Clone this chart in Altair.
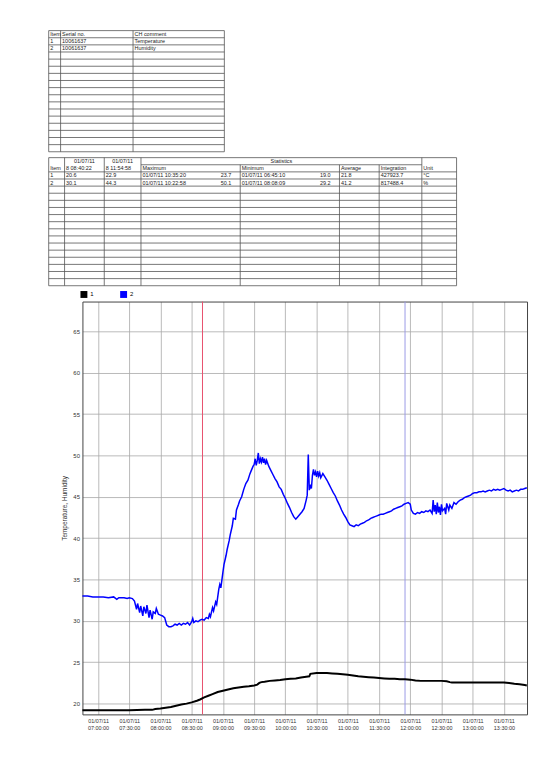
import altair as alt
import pandas as pd

FONT = "Liberation Sans"
LINE = "#555555"
TXT = "#222222"
TABLE_SHIFT = 34  # tables start this far left of the plot's left edge

# ---------------- table 1 ----------------
t1_header = ["Item", "Serial no.", "CH comment"]
t1_rows = [["1", "10061637", "Temperature"],
           ["2", "10061637", "Humidity"]]
t1_edges = [0, 12, 85, 177]
t1_nrows = 17
t1_rowh = 7.18

# ---------------- table 2 ----------------
t2_top = ["01/07/11", "01/07/11", "Statistics"]
t2_header = ["Item", "8 08:40:22", "8 11:54:58", "Maximum", "Minimum",
             "Average", "Integration", "Unit"]
t2_rows = [
    ["1", "20.6", "22.9", "01/07/11 10:35:20", "23.7", "01/07/11 06:45:10", "19.0",
     "21.8", "427923.7", "°C"],
    ["2", "30.1", "44.3", "01/07/11 10:22:58", "50.1", "01/07/11 08:08:09", "29.2",
     "41.2", "817488.4", "%"],
]
t2_edges = [0, 16, 56, 93, 193, 293, 333, 376, 411]
t2_nrows = 18
t2_rowh = 7.17

# ---------------- logged data (minutes after 07:00) ----------------
hum_min = [-15, -10, -5, 0, 5, 10, 15, 18, 20, 25, 28, 30, 33, 35, 37, 38, 40, 41, 43, 44,
           46, 47, 49, 50, 52, 53, 55, 56, 58, 60, 62, 64, 66, 68, 70, 72, 74, 76, 78, 80,
           82, 84, 86, 88, 90, 91, 92, 94, 96, 98, 100, 102, 104, 106, 107, 108, 110, 111, 113, 114,
           116, 117, 118, 120, 121, 123, 124, 126, 127, 129, 130, 132, 133, 135, 136, 138, 140, 142, 144, 146,
           147, 149, 150, 151, 152, 153, 154, 155, 156, 157, 158, 159, 160, 161, 162, 164, 166, 168, 170, 172,
           174, 176, 178, 180, 182, 184, 186, 188, 190, 192, 194, 196, 198, 200, 201, 202, 203, 204, 205, 206,
           207, 208, 209, 210, 211, 212, 213, 214, 216, 218, 220, 222, 224, 226, 228, 230, 232, 234, 236, 238,
           240, 242, 244, 246, 248, 250, 252, 254, 256, 258, 260, 262, 264, 266, 268, 270, 272, 274, 276, 278,
           280, 282, 284, 286, 288, 290, 292, 294, 296, 298, 300, 301, 303, 305, 307, 309, 311, 313, 315, 317,
           319, 321, 322, 323, 324, 325, 326, 327, 328, 329, 330, 331, 333, 334, 335, 337, 338, 340, 342, 344,
           346, 348, 350, 352, 354, 356, 358, 360, 362, 364, 366, 368, 370, 372, 374, 376, 378, 380, 382, 384,
           386, 388, 390, 392, 394, 396, 398, 400, 402, 404, 406, 408, 410, 412]
hum_val = [33.0, 33.0, 32.9, 32.9, 32.9, 32.8, 32.9, 32.6, 32.8, 32.8, 32.7, 32.8, 32.7, 32.4, 31.4, 32.1, 31.0, 31.8, 30.6, 31.7,
           30.9, 31.9, 30.4, 31.3, 30.2, 31.1, 30.9, 31.5, 30.8, 30.7, 30.6, 30.4, 29.5, 29.3, 29.3, 29.4, 29.6, 29.5, 29.7, 29.5,
           29.7, 29.6, 29.8, 29.5, 29.9, 30.3, 29.8, 30.0, 29.9, 30.1, 30.2, 30.1, 30.4, 30.3, 30.8, 30.5, 31.6, 31.2, 32.3, 32.0,
           33.8, 34.4, 34.0, 35.9, 36.8, 37.9, 38.6, 39.7, 40.4, 41.5, 42.4, 42.3, 43.4, 44.1, 44.5, 45.0, 45.9, 46.6, 47.0, 47.8,
           48.1, 48.7, 48.9, 49.6, 48.8, 49.4, 50.3, 49.0, 49.6, 49.2, 49.8, 49.1, 49.6, 48.9, 49.4, 48.7, 48.2, 47.7, 47.2, 46.8,
           46.2, 45.9, 45.3, 44.8, 44.2, 43.7, 43.1, 42.6, 42.3, 42.6, 42.9, 43.2, 43.6, 44.6, 45.2, 50.1, 45.8, 46.3, 46.0, 47.6,
           48.3, 47.6, 48.0, 47.4, 48.1, 47.5, 47.9, 47.3, 47.8, 47.4, 47.0, 46.5, 46.0, 45.5, 45.1, 44.5, 44.0, 43.4, 42.9, 42.5,
           42.0, 41.6, 41.5, 41.4, 41.6, 41.5, 41.7, 41.8, 41.9, 42.1, 42.2, 42.4, 42.5, 42.6, 42.7, 42.8, 42.9, 42.9, 43.0, 43.1,
           43.2, 43.3, 43.5, 43.6, 43.7, 43.8, 43.9, 44.1, 44.2, 44.3, 44.1, 43.4, 43.0, 42.9, 43.1, 43.0, 43.2, 43.1, 43.3, 43.2,
           43.4, 43.0, 44.6, 43.2, 44.0, 42.9, 44.3, 43.1, 43.8, 42.8, 44.1, 43.3, 43.6, 42.9, 44.2, 43.4, 44.0, 43.6, 44.3, 44.1,
           44.4, 44.6, 44.7, 44.9, 45.0, 45.1, 45.2, 45.4, 45.5, 45.5, 45.6, 45.6, 45.7, 45.6, 45.7, 45.8, 45.7, 45.9, 45.8, 45.9,
           45.8, 45.9, 46.0, 45.8, 45.7, 45.8, 45.6, 45.7, 45.8, 45.7, 45.9, 45.9, 46.0, 46.1]

tmp_min = [-15, 0, 15, 30, 45, 52, 55, 60, 65, 70, 75, 80, 85, 90, 95, 98, 102, 106, 110, 115,
           120, 125, 130, 135, 140, 145, 150, 153, 155, 157, 160, 165, 170, 175, 180, 185, 190, 195, 200, 203,
           204, 210, 215, 220, 225, 230, 235, 240, 245, 250, 255, 260, 265, 270, 275, 280, 285, 290, 295, 300,
           305, 310, 315, 320, 325, 330, 335, 338, 340, 350, 360, 370, 380, 390, 395, 400, 405, 410, 412]
tmp_val = [19.2, 19.2, 19.2, 19.2, 19.25, 19.25, 19.35, 19.4, 19.5, 19.6, 19.75, 19.9, 20.0, 20.15, 20.35, 20.5, 20.75, 20.95, 21.15, 21.4,
           21.55, 21.7, 21.85, 21.95, 22.05, 22.1, 22.2, 22.3, 22.5, 22.6, 22.65, 22.75, 22.8, 22.85, 22.95, 23.0, 23.05, 23.15, 23.25, 23.3,
           23.6, 23.7, 23.7, 23.7, 23.65, 23.6, 23.55, 23.5, 23.4, 23.3, 23.25, 23.2, 23.15, 23.1, 23.05, 23.0, 23.0, 22.95, 22.95, 22.9,
           22.8, 22.75, 22.75, 22.75, 22.75, 22.75, 22.7, 22.6, 22.55, 22.55, 22.55, 22.55, 22.55, 22.55, 22.5, 22.4, 22.35, 22.25, 22.2]

channels = ["1", "2"]
channel_colors = ["#000000", "#0000ff"]

cursor_times = ["08:40:22", "11:54:58"]
cursor_colors = ["#e8506e", "#9a9ae6"]

x_tick_labels = ["07:00", "07:30", "08:00", "08:30", "09:00", "09:30", "10:00",
                 "10:30", "11:00", "11:30", "12:00", "12:30", "13:00", "13:30"]
date_label = "01/07/11"
y_ticks = [20, 25, 30, 35, 40, 45, 50, 55, 60, 65]


def clock_to_min(s):
    parts = [int(p) for p in s.split(":")]
    while len(parts) < 3:
        parts.append(0)
    return parts[0] * 60 + parts[1] + parts[2] / 60.0


# ---------------- table builder ----------------
def build_table(edges, nrows, rowh, hlines, vlines, texts):
    W = edges[-1]
    H = nrows * rowh
    xs = alt.Scale(domain=[TABLE_SHIFT, W + TABLE_SHIFT], nice=False, zero=False)
    ys = alt.Scale(domain=[0, nrows], nice=False, zero=False, reverse=True)
    hdf = pd.DataFrame(hlines, columns=["ry", "rx", "rx2"])
    vdf = pd.DataFrame(vlines, columns=["rx", "ry", "ry2"])
    tdf = pd.DataFrame(texts, columns=["rx", "ry", "label", "al"])
    layers = [
        alt.Chart(hdf).mark_rule(color=LINE, strokeWidth=0.8).encode(
            x=alt.X("rx:Q", scale=xs, axis=None), x2="rx2:Q",
            y=alt.Y("ry:Q", scale=ys, axis=None)),
        alt.Chart(vdf).mark_rule(color=LINE, strokeWidth=0.8).encode(
            x=alt.X("rx:Q", scale=xs, axis=None),
            y=alt.Y("ry:Q", scale=ys, axis=None), y2="ry2:Q"),
    ]
    for al in ["left", "center", "right"]:
        sub = tdf[tdf["al"] == al]
        if len(sub):
            layers.append(
                alt.Chart(sub).mark_text(align=al, baseline="middle", fontSize=5.5,
                                         font=FONT, color=TXT).encode(
                    x=alt.X("rx:Q", scale=xs, axis=None),
                    y=alt.Y("ry:Q", scale=ys, axis=None),
                    text="label:N"))
    return alt.layer(*layers).properties(width=W, height=H)


# table 1 geometry
W1 = t1_edges[-1]
h1 = [(r, 0, W1) for r in range(t1_nrows + 1)]
v1 = [(e, 0, t1_nrows) for e in t1_edges]
tx1 = [(t1_edges[i] + 1.5, 0.5, t1_header[i], "left") for i in range(3)]
for r, row in enumerate(t1_rows):
    for i, val in enumerate(row):
        tx1.append((t1_edges[i] + 1.5, r + 1.5, val, "left"))
table1 = build_table(t1_edges, t1_nrows, t1_rowh, h1, v1, tx1)

# table 2 geometry
E = t2_edges
W2 = E[-1]
h2 = [(0, 0, W2), (1, E[3], E[7])] + [(r, 0, W2) for r in range(2, t2_nrows + 1)]
v2 = [(E[i], 0, t2_nrows) for i in [0, 1, 2, 3, 7, 8]] + [(E[i], 1, t2_nrows) for i in [4, 5, 6]]
tx2 = [((E[1] + E[2]) / 2, 0.5, t2_top[0], "center"),
       ((E[2] + E[3]) / 2, 0.5, t2_top[1], "center"),
       ((E[3] + E[7]) / 2, 0.5, t2_top[2], "center")]
for i in range(8):
    tx2.append((E[i] + 1.5, 1.5, t2_header[i], "left"))
for r, row in enumerate(t2_rows):
    y = r + 2.5
    tx2.append((E[0] + 1.5, y, row[0], "left"))
    tx2.append((E[1] + 1.5, y, row[1], "left"))
    tx2.append((E[2] + 1.5, y, row[2], "left"))
    tx2.append((E[3] + 1.5, y, row[3], "left"))
    tx2.append((E[4] - 9, y, row[4], "right"))
    tx2.append((E[4] + 1.5, y, row[5], "left"))
    tx2.append((E[5] - 9, y, row[6], "right"))
    tx2.append((E[5] + 1.5, y, row[7], "left"))
    tx2.append((E[6] + 1.5, y, row[8], "left"))
    tx2.append((E[7] + 1.5, y, row[9], "left"))
table2 = build_table(E, t2_nrows, t2_rowh, h2, v2, tx2)

# ---------------- main chart ----------------
start = clock_to_min("07:00")
df_t = pd.DataFrame({"t": [start + m for m in tmp_min], "value": tmp_val, "ch": channels[0]})
df_h = pd.DataFrame({"t": [start + m for m in hum_min], "value": hum_val, "ch": channels[1]})
df_c = pd.DataFrame({"t": [clock_to_min(s) for s in cursor_times], "c": cursor_colors})
x_ticks = [clock_to_min(s) for s in x_tick_labels]

xscale = alt.Scale(domain=[clock_to_min("06:45"), clock_to_min("13:52:12")], nice=False, zero=False)
yscale = alt.Scale(domain=[18.7, 68.6], nice=False, zero=False)

label_expr = ("['" + date_label + "', format(floor(datum.value / 60), '02d') + ':' + "
              "format(datum.value % 60, '02d') + ':00']")

BORDER = "#444444"
xaxis = alt.Axis(title=None, values=x_ticks, labelExpr=label_expr, labelOverlap=False,
                 grid=True, gridColor="#a8a8a8", gridWidth=0.8, ticks=False,
                 domain=True, domainColor=BORDER, domainWidth=1, orient="bottom",
                 labelFontSize=5.5, labelFont=FONT, labelColor="#333333", labelPadding=4,
                 labelLineHeight=7, labelAngle=0, minExtent=0)
yaxis = alt.Axis(title="Temperature, Humidity", values=y_ticks, grid=True, gridColor="#a8a8a8",
                 gridWidth=0.8, ticks=False, domain=True, domainColor=BORDER, domainWidth=1,
                 orient="left", labelFontSize=6, labelFont=FONT,
                 labelColor="#333333", labelPadding=3, titleFontSize=6.5, titleFont=FONT,
                 titleFontWeight="normal", titleColor="#333333", titlePadding=5, minExtent=0)
xaxis_top = alt.Axis(title=None, orient="top", labels=False, ticks=False, grid=False,
                     domain=True, domainColor=BORDER, domainWidth=1, minExtent=0, maxExtent=0)
yaxis_right = alt.Axis(title=None, orient="right", labels=False, ticks=False, grid=False,
                       domain=True, domainColor=BORDER, domainWidth=1, minExtent=0, maxExtent=0)

color_enc = alt.Color("ch:N", scale=alt.Scale(domain=channels, range=channel_colors),
                      legend=alt.Legend(title=None, orient="none", legendX=-2, legendY=-11,
                                        direction="horizontal", symbolType="square", symbolSize=12,
                                        symbolStrokeWidth=3.5, labelFontSize=6, labelFont=FONT,
                                        labelOffset=3, columnPadding=20, padding=0))

cursors = alt.Chart(df_c).mark_rule(strokeWidth=1).encode(
    x=alt.X("t:Q", scale=xscale, axis=None),
    stroke=alt.Stroke("c:N", scale=None))
temp_line = alt.Chart(df_t).mark_line(strokeWidth=2).encode(
    x=alt.X("t:Q", scale=xscale, axis=xaxis),
    y=alt.Y("value:Q", scale=yscale, axis=yaxis),
    color=color_enc)
hum_line = alt.Chart(df_h).mark_line(strokeWidth=1.5).encode(
    x=alt.X("t:Q", scale=xscale, axis=xaxis_top),
    y=alt.Y("value:Q", scale=yscale, axis=yaxis_right),
    color=color_enc)

main = alt.layer(cursors, temp_line, hum_line).resolve_axis(
    x="independent", y="independent").properties(width=448, height=416)

chart = alt.vconcat(table1, table2, main, spacing=4).resolve_scale(
    color="independent"
).properties(
    padding={"left": 40, "top": 19, "right": 0, "bottom": 4},
    background="white",
).configure_view(stroke=None)

chart.save("out.html", embed_options={"renderer": "svg", "actions": False})
